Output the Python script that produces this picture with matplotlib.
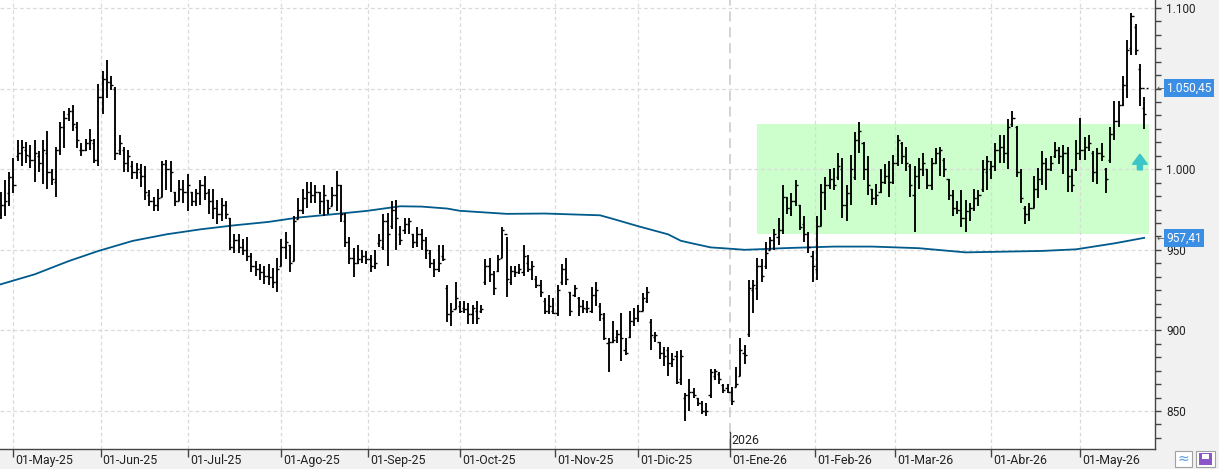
import numpy as np
import pandas as pd
import matplotlib
matplotlib.use('Agg')
import matplotlib.pyplot as plt
from matplotlib.patches import Rectangle, FancyArrow
from matplotlib.ticker import MultipleLocator, FuncFormatter

# daily OHLC bars (US trading days, 28-Apr-25 .. 22-May-26)
highs = [986, 993, 998, 1007, 1018, 1018, 1017, 1015, 1018, 1011,
         1018, 1024, 1000, 1014, 1029, 1036, 1038, 1040, 1029, 1016,
         1019, 1025, 1019, 1053, 1061, 1068, 1058, 1051, 1021, 1014,
         1012, 1005, 1004, 1003, 1002, 987, 983, 988, 1005, 1006,
         1005, 986, 993, 993, 997, 986, 988,
         993, 996, 988, 988, 981, 982, 980, 970, 960, 960,
         957, 958, 948, 943, 941, 940, 941, 939, 945, 957,
         961, 953, 971, 982, 988, 992, 992, 990, 986, 990,
         981, 989, 999, 990, 973, 958, 951, 953, 950, 949,
         947, 950, 960,
         972, 973, 980, 981, 965, 970, 970, 960, 964, 963,
         958, 950, 944, 953, 953, 928, 917, 930, 918, 918,
         917, 916, 918, 916, 944, 945, 937, 947, 964, 958,
         940, 940, 941, 953, 947, 943, 934, 931, 920, 922,
         920, 928, 941, 945, 924, 928, 921, 919, 918, 927,
         930, 917, 911, 895, 906, 900, 911, 895, 912, 914,
         916, 923, 927, 907, 899, 893, 890, 890, 886, 887,
         888, 861, 870, 864, 858, 856, 855, 876, 876, 874,
         867, 867, 865, 877, 895, 891, 931, 931, 945, 944,
         955, 958, 963, 970,
         990, 983, 985, 993, 978, 971, 961, 949, 971, 991,
         995, 1000, 1001, 1010, 1007, 990, 1009, 1023, 1029, 1017,
         1008, 988, 991, 1000, 1003, 1005, 1009, 1021, 1017, 1014,
         1003, 1002, 1007, 1010, 1000, 1007, 1013, 1014, 1007, 994,
         987, 980, 987, 981, 979, 988, 987,
         1006, 1008, 1005, 1016, 1021, 1021, 1031, 1036, 1027, 1000,
         977, 979, 996, 1001, 1011, 1007, 1008, 1017, 1014, 1015,
         1014, 1000, 1018, 1032, 1020, 1021, 1011, 1013, 1016, 1001,
         1026, 1042, 1042, 1058, 1080, 1097, 1090, 1065, 1045]
lows = [969, 971, 977, 985, 1005, 1002, 1004, 1001, 992, 998,
        991, 988, 990, 983, 1009, 1013, 1030, 1024, 1013, 1008,
        1011, 1012, 1004, 1002, 1034, 1044, 1049, 1006, 1009, 998,
        998, 994, 994, 989, 981, 977, 974, 974, 983, 987,
        986, 977, 980, 979, 974, 977, 977,
        978, 981, 972, 969, 966, 968, 969, 950, 948, 948,
        947, 943, 936, 934, 931, 929, 928, 926, 924, 940,
        944, 936, 943, 969, 972, 976, 979, 979, 972, 971,
        972, 977, 974, 967, 952, 941, 933, 941, 942, 941,
        936, 938, 952,
        950, 940, 963, 950, 953, 960, 960, 951, 952, 950,
        944, 939, 933, 936, 943, 905, 903, 913, 911, 911,
        904, 904, 904, 911, 928, 930, 922, 936, 945, 921,
        928, 933, 935, 934, 936, 931, 926, 921, 910, 910,
        910, 909, 928, 928, 909, 921, 909, 911, 911, 911,
        915, 906, 894, 874, 892, 892, 881, 885, 895, 903,
        905, 912, 917, 888, 893, 882, 878, 872, 877, 867,
        866, 844, 850, 858, 853, 848, 847, 858, 869, 867,
        861, 861, 854, 865, 872, 879, 896, 911, 919, 930,
        938, 950, 950, 953,
        960, 972, 971, 977, 962, 955, 948, 930, 931, 965,
        975, 988, 987, 993, 970, 968, 978, 993, 1010, 993,
        984, 978, 978, 985, 991, 983, 991, 1002, 1003, 999,
        983, 961, 988, 996, 988, 987, 1003, 996, 995, 981,
        971, 972, 964, 961, 968, 974, 977,
        986, 987, 994, 999, 1004, 1004, 1000, 1026, 995, 979,
        966, 968, 976, 982, 990, 987, 999, 1007, 1003, 997,
        986, 986, 999, 1006, 1006, 1011, 992, 991, 1005, 985,
        1004, 1018, 1026, 1039, 1044, 1071, 1071, 1039, 1025]
opens = [972, 978, 985, 995, 1008, 1010, 1012, 1008, 1006, 1008,
         1004, 1010, 998, 992, 1012, 1026, 1034, 1036, 1026, 1012,
         1012, 1016, 1016, 1006, 1045, 1056, 1054, 1050, 1012, 1012,
         1004, 1002, 998, 998, 996, 984, 980, 978, 983, 1003,
         1000, 986, 980, 988, 986, 986, 980,
         985, 990, 986, 980, 976, 972, 978, 970, 952, 956,
         952, 950, 946, 940, 938, 936, 934, 933, 930, 940,
         952, 953, 943, 969, 975, 982, 986, 984, 986, 980,
         981, 977, 984, 990, 968, 955, 945, 942, 944, 946,
         944, 940, 954,
         952, 968, 965, 975, 960, 962, 966, 960, 955, 960,
         956, 948, 942, 938, 946, 926, 910, 913, 915, 914,
         913, 910, 912, 912, 930, 940, 935, 937, 945, 960,
         930, 937, 936, 936, 942, 938, 932, 928, 918, 912,
         912, 911, 930, 938, 924, 922, 920, 915, 913, 912,
         922, 915, 908, 892, 893, 896, 898, 888, 896, 906,
         908, 912, 918, 905, 896, 893, 886, 888, 880, 884,
         870, 858, 860, 862, 858, 855, 850, 860, 872, 873,
         866, 864, 862, 865, 872, 886, 898, 925, 926, 940,
         940, 950, 956, 958,
         962, 983, 976, 980, 978, 966, 960, 946, 938, 965,
         986, 990, 994, 995, 1000, 978, 985, 995, 1018, 1016,
         1000, 988, 982, 986, 992, 996, 992, 1004, 1016, 1008,
         1002, 984, 996, 1000, 1000, 990, 1004, 1010, 1006, 994,
         984, 976, 975, 970, 974, 976, 982,
         988, 998, 1000, 1002, 1012, 1014, 1010, 1028, 1026, 998,
         976, 972, 976, 988, 994, 1004, 1000, 1008, 1012, 1008,
         1010, 996, 1000, 1010, 1012, 1014, 1010, 998, 1010, 1000,
         1006, 1022, 1030, 1040, 1052, 1075, 1088, 1062, 1038]
closes = [978, 980, 995, 990, 1010, 1014, 1009, 1006, 1010, 1004,
          1012, 998, 994, 1012, 1026, 1032, 1036, 1028, 1018, 1012,
          1016, 1018, 1006, 1045, 1056, 1054, 1052, 1010, 1016, 1004,
          1008, 998, 1000, 996, 986, 980, 978, 982, 1003, 1000,
          998, 980, 988, 986, 990, 980, 985,
          990, 985, 980, 976, 972, 978, 972, 952, 956, 952,
          950, 946, 940, 938, 936, 934, 933, 930, 938, 952,
          955, 942, 968, 975, 982, 986, 984, 986, 980, 984,
          976, 984, 990, 972, 955, 945, 942, 944, 946, 944,
          940, 942, 956,
          968, 960, 975, 970, 956, 966, 968, 955, 960, 956,
          950, 942, 938, 942, 944, 910, 912, 920, 912, 913,
          910, 914, 908, 913, 940, 935, 926, 944, 962, 932,
          937, 936, 938, 946, 938, 940, 928, 924, 912, 915,
          911, 925, 938, 932, 912, 926, 915, 914, 914, 922,
          925, 910, 895, 893, 894, 898, 895, 886, 906, 908,
          912, 920, 924, 897, 897, 886, 884, 880, 882, 868,
          884, 860, 862, 860, 855, 850, 850, 874, 875, 870,
          863, 862, 856, 867, 888, 885, 926, 928, 940, 934,
          948, 956, 960, 962,
          983, 976, 980, 990, 964, 960, 952, 940, 965, 986,
          990, 994, 990, 1002, 978, 985, 1000, 1018, 1024, 1000,
          990, 982, 984, 992, 996, 992, 1004, 1018, 1008, 1004,
          990, 996, 1000, 1004, 990, 1004, 1010, 1012, 1000, 984,
          976, 975, 970, 974, 976, 982, 984,
          1000, 1005, 1002, 1012, 1014, 1010, 1026, 1032, 998, 982,
          972, 976, 988, 994, 1004, 1000, 1004, 1012, 1008, 1010,
          996, 990, 1010, 1012, 1014, 1016, 998, 1010, 1008, 994,
          1022, 1030, 1040, 1052, 1074, 1095, 1074, 1050.45, 1034]

holidays = ['2025-05-26', '2025-06-19', '2025-07-04', '2025-09-01', '2025-11-27',
            '2025-12-25', '2026-01-01', '2026-01-19', '2026-02-16', '2026-04-03']
month_abbr = ['Ene', 'Feb', 'Mar', 'Abr', 'May', 'Jun', 'Jul', 'Ago', 'Sep', 'Oct', 'Nov', 'Dic']

# moving average line, sampled along the curve (bar number -> value)
ma_bar = [0, 8, 16, 23, 31, 39, 47, 55, 63, 70, 78, 86, 94, 99, 105, 108, 119, 128, 141,
          144, 150, 157, 160, 163, 167, 172, 175, 179, 184, 196, 205, 216, 227, 235, 245,
          253, 262, 269]
ma_val = [928.6, 934.8, 943.0, 949.3, 955.5, 959.6, 962.7, 965.2, 967.3, 970.0, 972.0,
          974.1, 977.0, 976.8, 975.6, 974.2, 972.3, 972.5, 971.4, 969.2, 964.6, 959.6,
          955.6, 953.8, 951.5, 950.6, 950.0, 950.4, 951.0, 952.0, 952.0, 951.0, 948.4,
          948.8, 949.3, 950.3, 954.0, 957.41]

last_price = 1050.45
ma_last = 957.41
zone_first_day = '2026-01-12'
zone_low, zone_high = 959.7, 1028.0
arrow_day = '2026-05-21'
arrow_base, arrow_tip = 999.6, 1009.3

dates = pd.bdate_range('2025-04-28', '2026-05-22', freq='C', holidays=holidays)
n = len(highs)
x = np.arange(n)

W, H = 1219, 469
plt.rcParams['font.family'] = ['Roboto', 'DejaVu Sans']
fig = plt.figure(figsize=(W / 100, H / 100), dpi=100, facecolor='#f1f1f2')
ax = fig.add_axes([0, 20 / H, 1155 / W, 449 / H])
ax.set_facecolor('white')
ax.set_xlim(-0.165, 271.55)
ax.set_ylim(826.43, 1104.96)

# month ticks (half a bar early when the 1st is not a trading day)
tick_pos, tick_lab = [], []
year_pos = None
for i in range(1, len(dates)):
    if dates[i].month != dates[i - 1].month:
        d = dates[i]
        p = i if d.day == 1 else i - 0.5
        tick_pos.append(p)
        tick_lab.append(f'01-{month_abbr[d.month - 1]}-{d.year % 100:02d}')
        if d.year != dates[i - 1].year:
            year_pos = p

grid_kw = dict(color='#dadada', lw=0.9, dashes=(3, 2.2), zorder=1)
for v in range(850, 1101, 50):
    ax.axhline(v, **grid_kw)
for p in tick_pos:
    if p != year_pos:
        ax.axvline(p, **grid_kw)
ax.axvline(year_pos, color='#cccccc', lw=1.2, dashes=(6, 3.5), zorder=1)

# consolidation zone
zs = dates.get_loc(pd.Timestamp(zone_first_day)) - 0.1
ax.add_patch(Rectangle((zs, zone_low), n + 0.1 - zs, zone_high - zone_low,
                       facecolor='#ccffcc', edgecolor='none', zorder=0.5))

ax.plot(ma_bar, ma_val, color='#005a8c', lw=1.3, zorder=2)

# OHLC bars
ax.vlines(x, lows, highs, color='black', lw=1.35, zorder=3)
ax.hlines(opens, x - 0.5, x, color='black', lw=1.0, zorder=3)
ax.hlines(closes, x, x + 0.5, color='black', lw=1.0, zorder=3)
ax.hlines(last_price, n - 1.5, n - 0.2, color='black', lw=1.0, linestyles=(0, (1.5, 1.5)), zorder=3)

ai = dates.get_loc(pd.Timestamp(arrow_day))
ax.add_patch(FancyArrow(ai, arrow_base, 0, arrow_tip - arrow_base, width=1.2, head_width=3.5,
                        head_length=6.2, length_includes_head=True, color='#3cc6c8', zorder=4))

for s in ['left', 'top']:
    ax.spines[s].set_visible(False)
for s in ['right', 'bottom']:
    ax.spines[s].set_color('#444444')
    ax.spines[s].set_linewidth(1)


def price_fmt(v, _):
    if abs(v - 1050) < 1:  # hidden behind the last-price box
        return ''
    return f'{v:,.0f}'.replace(',', '.')


ax.yaxis.set_ticks_position('right')
ax.yaxis.set_major_locator(MultipleLocator(50))
ax.yaxis.set_minor_locator(MultipleLocator(50 / 6))
ax.yaxis.set_major_formatter(FuncFormatter(price_fmt))
ax.tick_params(axis='y', which='both', length=4, width=1, color='#444444', pad=4,
               labelsize=8.5, labelcolor='#222222')

ax.set_xticks(tick_pos)
ax.set_xticklabels([])
ax.tick_params(axis='x', length=6, width=1, color='#444444')
for p, lab in zip(tick_pos, tick_lab):
    ax.annotate(lab, xy=(p, 0), xycoords=('data', 'axes fraction'), xytext=(1.5, -3.6),
                textcoords='offset points', ha='left', va='top', fontsize=8.9,
                color='#222222', annotation_clip=False)

# year marker
ax.plot([year_pos, year_pos], [826.43, 837.0], color='#444444', lw=1, zorder=5)
ax.annotate(str(dates[int(np.ceil(year_pos))].year), xy=(year_pos, 826.43), xytext=(1.5, 1.5),
            textcoords='offset points', ha='left', va='bottom', fontsize=8.9, color='#222222')

# price labels on the right axis
for val, txt in [(last_price, '1.050,45'), (ma_last, '957,41')]:
    ax.annotate(txt, xy=(1, val), xycoords=('axes fraction', 'data'), xytext=(8.3, 0),
                textcoords='offset points', ha='left', va='center', fontsize=8.6, color='white',
                bbox=dict(boxstyle='square,pad=0.18', facecolor='#3a8ee4', edgecolor='none'),
                annotation_clip=False, zorder=10)
    ax.annotate('←', xy=(1, val), xycoords=('axes fraction', 'data'), xytext=(1.2, 0),
                textcoords='offset points', ha='left', va='center', fontsize=6.5,
                color='#555555', family='DejaVu Sans', annotation_clip=False)

# small buttons bottom right
fig.add_artist(Rectangle((1175 / W, 2 / H), 17 / W, 16 / H, transform=fig.transFigure,
                         facecolor='white', edgecolor='#a0a0a0', lw=0.8))
fig.text(1183.5 / W, 10 / H, '≈', ha='center', va='center', fontsize=10, color='#5b9de0',
         family='DejaVu Sans')
fig.add_artist(Rectangle((1196 / W, 2 / H), 19 / W, 16 / H, transform=fig.transFigure,
                         facecolor='white', edgecolor='#a0a0a0', lw=0.8))
fig.add_artist(Rectangle((1199 / W, 4 / H), 13 / W, 12 / H, transform=fig.transFigure,
                         facecolor='#8b56c8', edgecolor='none'))
fig.add_artist(Rectangle((1202 / W, 10 / H), 7 / W, 5 / H, transform=fig.transFigure,
                         facecolor='white', edgecolor='none'))

fig.savefig('out.png', dpi=100, facecolor=fig.get_facecolor())
